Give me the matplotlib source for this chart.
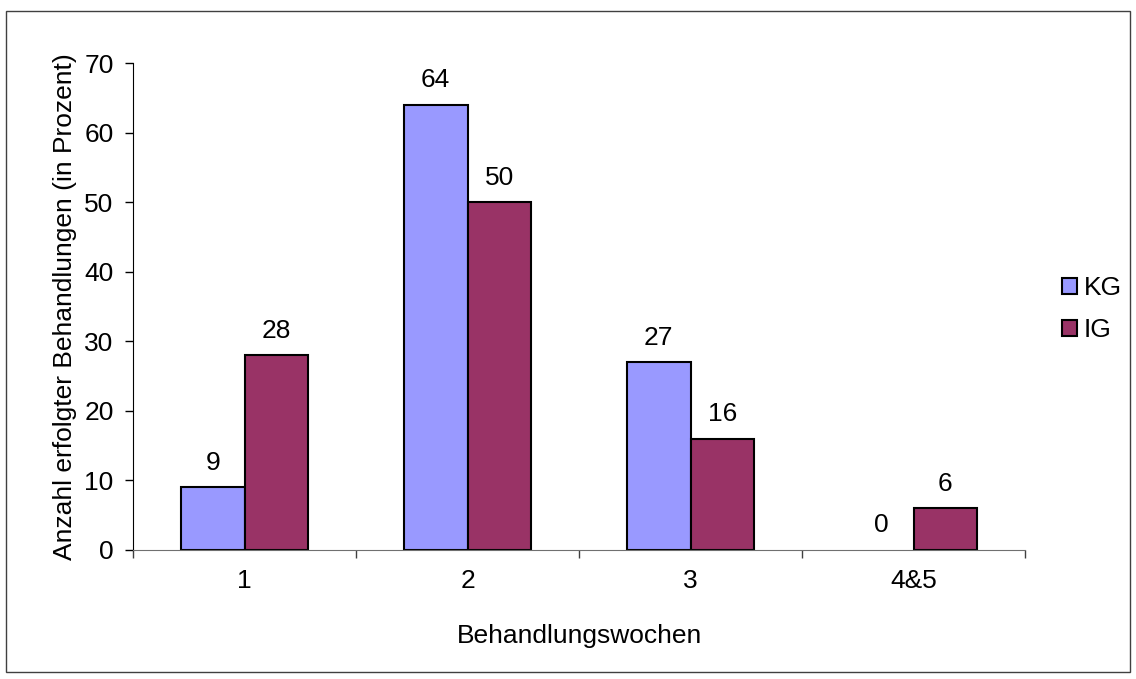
import numpy as np
import matplotlib.pyplot as plt
from matplotlib.patches import Rectangle

plt.rcParams['font.family'] = ['Liberation Sans', 'DejaVu Sans']

weeks = ['1', '2', '3', '4&5']
kg = [9, 64, 27, 0]
ig = [28, 50, 16, 6]
series_names = ['KG', 'IG']
colors = ['#9999FF', '#993366']

fig = plt.figure(figsize=(11.36, 6.79), dpi=100)
ax = fig.add_axes([0.1171, 0.19, 0.7852, 0.7172])

# frame around the whole chart
fig.patches.append(Rectangle((6 / 1136, 1 - 672 / 679), 1124 / 1136, 661 / 679,
                             transform=fig.transFigure, fill=False,
                             edgecolor='#404040', linewidth=1.0))

x = np.arange(len(weeks))
w = 0.285
fs = 19

bars = []
for i, (vals, name) in enumerate(zip([kg, ig], series_names)):
    offs = (i - 0.5) * w
    b = ax.bar(x + offs, vals, w, color=colors[i], edgecolor='black',
               linewidth=1.5, label=name)
    bars.append(b)
    for xi, v in zip(x + offs, vals):
        ax.annotate(str(v), (xi, v), xytext=(0, 9), textcoords='offset points',
                    ha='center', va='bottom', fontsize=fs)

# KG bar with value 0 should not show an outline
bars[0][3].set_linewidth(0)

ax.set_xlim(-0.5, len(weeks) - 0.5)
ax.set_ylim(0, 70)
ax.set_yticks(range(0, 71, 10))
ax.set_xticks(x)
ax.set_xticklabels(weeks, fontsize=fs)
ax.set_xticks(np.arange(-0.5, len(weeks)), minor=True)
ax.tick_params(axis='x', which='major', length=0, pad=14)
ax.tick_params(axis='x', which='minor', length=6, width=1, color='#404040')
ax.tick_params(axis='y', labelsize=fs, length=6, width=1, pad=8)

for s in ['top', 'right']:
    ax.spines[s].set_visible(False)
ax.spines['left'].set_color('black')
ax.spines['bottom'].set_color('#707070')

ax.set_xlabel('Behandlungswochen', fontsize=fs, labelpad=22)
ax.set_ylabel('Anzahl erfolgter Behandlungen (in Prozent)', fontsize=fs, labelpad=5)

ax.legend(loc='center left', bbox_to_anchor=(1.03, 0.494), frameon=False,
          fontsize=fs, handlelength=0.55, handleheight=0.55, handletextpad=0.25,
          labelspacing=0.68, borderaxespad=0)

fig.savefig('out.png', dpi=100)
